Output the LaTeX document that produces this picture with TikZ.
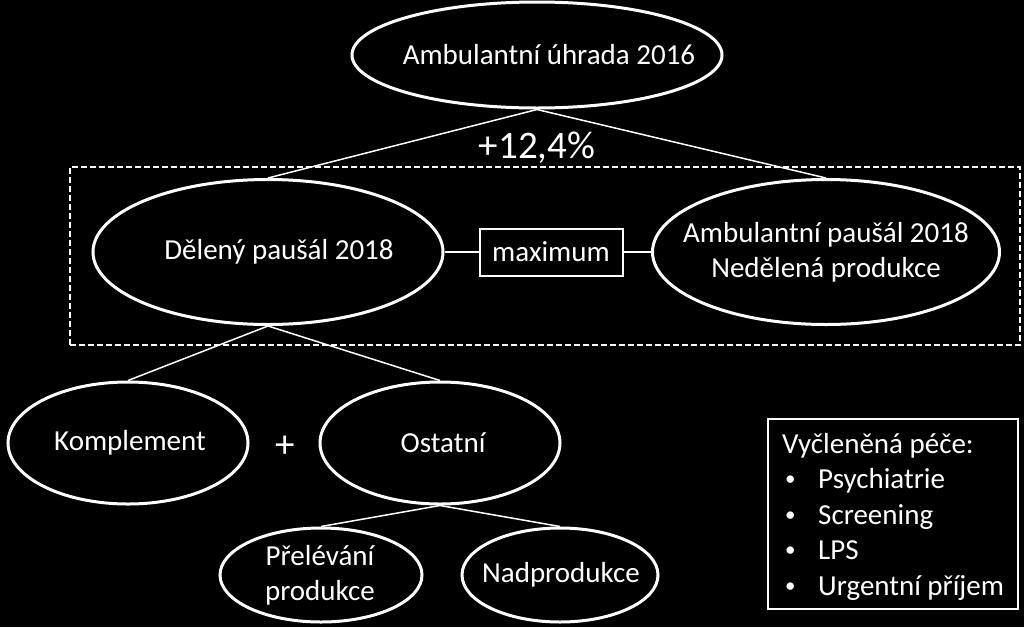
\documentclass[tikz,border=0pt]{standalone}
\usepackage{fontspec}
\setmainfont{Carlito}
\usetikzlibrary{shapes.geometric}
\begin{document}
\begin{tikzpicture}[x=1pt,y=-1pt,
  every node/.style={text=white,font=\fontsize{29}{35}\selectfont},
  ell/.style={ellipse,draw=white,line width=3pt,inner sep=0pt},
  lbl/.style={inner sep=0pt,align=center},
  conn/.style={draw=white,line width=1.5pt},
  plainbox/.style={draw=white,line width=2pt,inner sep=0pt},
  txt/.style={anchor=base west,inner sep=0pt},
]
\newcommand{\bul}{\makebox[33pt][l]{\raisebox{2.6pt}{\fontsize{21}{22}\selectfont •}}}
\fill[black] (0,0) rectangle (1024,627);
\useasboundingbox (0,0) rectangle (1024,627);
% group dashed frame
\node[draw=white,line width=2.5pt,dash pattern=on 6pt off 3pt,inner sep=0pt,minimum width=950,minimum height=178] (grp) at (545,256) {};
% ellipses
\node[ell,minimum width=370,minimum height=106] (top) at (537,55) {};
\node[ell,minimum width=350,minimum height=145] (del) at (268,252) {};
\node[ell,minimum width=347,minimum height=145] (amb) at (826,252) {};
\node[ell,minimum width=240,minimum height=122] (kom) at (128,443) {};
\node[ell,minimum width=240,minimum height=122] (ost) at (440,443) {};
\node[ell,minimum width=202,minimum height=94] (pre) at (321,575) {};
\node[ell,minimum width=196,minimum height=94] (nad) at (560,575) {};
% ellipse texts
\node[lbl] (toptext) at (549,55) {Ambulantní úhrada 2016};
\node[lbl] (deltext) at (279,252) {Dělený paušál 2018};
\node[lbl] (ambtext) at (826,252) {Ambulantní paušál 2018\\Nedělená produkce};
\node[lbl] (komtext) at (130,443) {Komplement};
\node[lbl] (osttext) at (443,443) {Ostatní};
\node[lbl] (pretext) at (320,575) {Přelévání\\produkce};
\node[lbl] (nadtext) at (561,575) {Nadprodukce};
% maximum box
\node[plainbox,minimum width=143,minimum height=47] (max) at (551,252) {maximum};
% labels
\node[font=\fontsize{39}{45}\selectfont,inner sep=0pt] (pct) at (537,148) {+12,4\%};
\node[font=\fontsize{39}{45}\selectfont,inner sep=0pt] (plus) at (285,447) {+};
% connectors
\draw[conn] (top.south) -- (del.north);
\draw[conn] (top.south) -- (amb.north);
\draw[conn,line width=2pt] (del.east) -- (max.west);
\draw[conn,line width=2pt] (max.east) -- (amb.west);
\draw[conn] (del.south) -- (kom.north);
\draw[conn] (del.south) -- (ost.north);
\draw[conn] (ost.south) -- (pre.north);
\draw[conn] (ost.south) -- (nad.north);
% side box
\node[plainbox,minimum width=250,minimum height=190] (vbox) at (893,514) {};
\node[txt] (v0) at (782,453) {Vyčleněná péče:};
\node[txt] (v1) at (785,488.5) {\bul Psychiatrie};
\node[txt] (v2) at (785,524) {\bul Screening};
\node[txt] (v3) at (785,559.5) {\bul LPS};
\node[txt] (v4) at (785,595) {\bul Urgentní příjem};
\end{tikzpicture}
\end{document}
